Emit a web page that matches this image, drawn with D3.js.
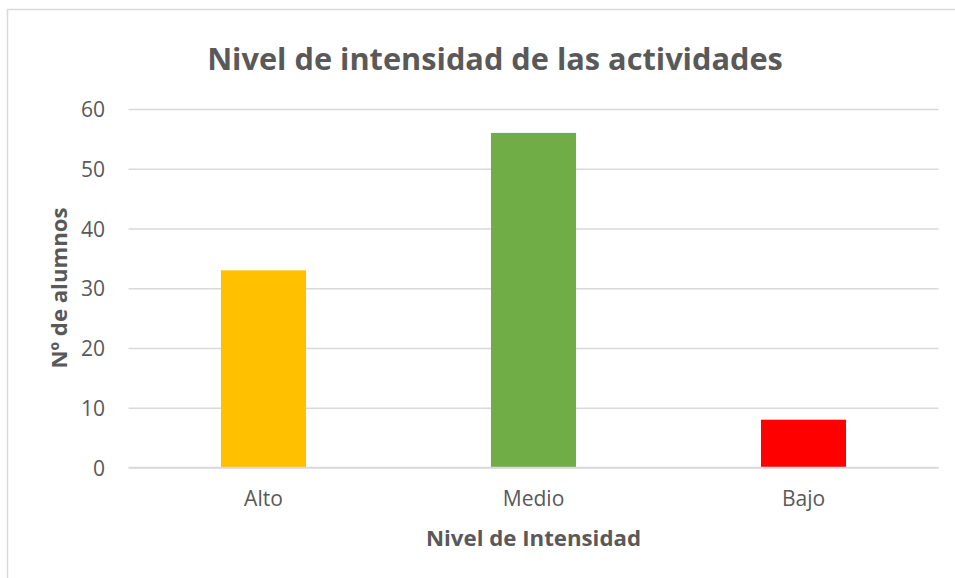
<!DOCTYPE html>
<html><head><meta charset="utf-8">
<script src="https://cdn.jsdelivr.net/npm/d3@7"></script>
<style>body{margin:0;background:#fff;}svg{display:block;font-family:"Open Sans",sans-serif;}</style>
</head><body>
<svg id="c" width="955" height="578"></svg>
<script>
const categories = ["Alto", "Medio", "Bajo"];
const values = [33, 56, 8];
const colors = ["#FFC000", "#70AD47", "#FF0000"];
const yTicks = [0, 10, 20, 30, 40, 50, 60];
const title = "Nivel de intensidad de las actividades";
const xTitle = "Nivel de Intensidad";
const yTitle = "Nº de alumnos";

(function () {
const svg = d3.select("#c");
const textColor = "#595959";

// chart border
svg.append("rect").attr("x", 7.5).attr("y", 9.5).attr("width", 980).attr("height", 620)
  .attr("fill", "#fff").attr("stroke", "#d9d9d9").attr("stroke-width", 1.5);

const pL = 128.5, pR = 938.5, pT = 109, pB = 467.5;
const x = d3.scaleBand().domain(categories).range([pL, pR]).paddingInner(0.685).paddingOuter(0.3425);
const y = d3.scaleLinear().domain([0, 60]).range([pB, pT]);

function fitSize(sel, target) {
  const w = sel.node().getComputedTextLength();
  const fs = parseFloat(sel.attr("font-size"));
  return fs * target / w;
}

// bars
svg.append("g").selectAll("rect").data(values).join("rect")
  .attr("x", (d, i) => x(categories[i]))
  .attr("width", x.bandwidth())
  .attr("y", d => y(d))
  .attr("height", d => y(0) - y(d))
  .attr("fill", (d, i) => colors[i]);

// x axis
const xAxis = d3.axisBottom(x).tickSize(0).tickPadding(24);
const gx = svg.append("g").attr("transform", `translate(0,${pB})`).call(xAxis);
gx.select(".domain").attr("stroke", "#d9d9d9").attr("stroke-width", 1.5).attr("d", `M${pL},0H${pR}`);
gx.selectAll(".tick text").attr("fill", textColor).attr("font-size", 19).attr("font-family", "Open Sans")
  .attr("dy", null).attr("y", 38.5);
const tMedio = gx.selectAll(".tick text").filter(d => d === "Medio");
const fsX = fitSize(tMedio, 61.6);
gx.selectAll(".tick text").attr("font-size", fsX.toFixed(2));

// grid + y axis
const yAxis = d3.axisLeft(y).tickValues(yTicks).tickSize(-(pR - pL)).tickPadding(23.5);
const gy = svg.insert("g", ":nth-child(2)").attr("transform", `translate(${pL},0)`).call(yAxis);
gy.select(".domain").remove();
gy.selectAll(".tick line").attr("stroke", "#d9d9d9").attr("stroke-width", 1.5);
gy.selectAll(".tick text").attr("fill", textColor).attr("font-size", fsX.toFixed(2)).attr("font-family", "Open Sans")
  .attr("dy", "0.36em");

// titles
const t = svg.append("text").attr("x", 495).attr("y", 70).attr("text-anchor", "middle")
  .attr("font-size", 30).attr("font-weight", "bold").attr("fill", textColor).text(title);
t.attr("font-size", fitSize(t, 576).toFixed(2));

const xt = svg.append("text").attr("x", 533.5).attr("y", 546).attr("text-anchor", "middle")
  .attr("font-size", 20).attr("font-weight", "bold").attr("fill", textColor).text(xTitle);
xt.attr("font-size", fitSize(xt, 215).toFixed(2));

const yt = svg.append("text").attr("transform", "translate(67,288) rotate(-90)").attr("text-anchor", "middle")
  .attr("font-size", 20).attr("font-weight", "bold").attr("fill", textColor).text(yTitle);
yt.attr("font-size", fitSize(yt, 161).toFixed(2));
})();
</script>
</body></html>
